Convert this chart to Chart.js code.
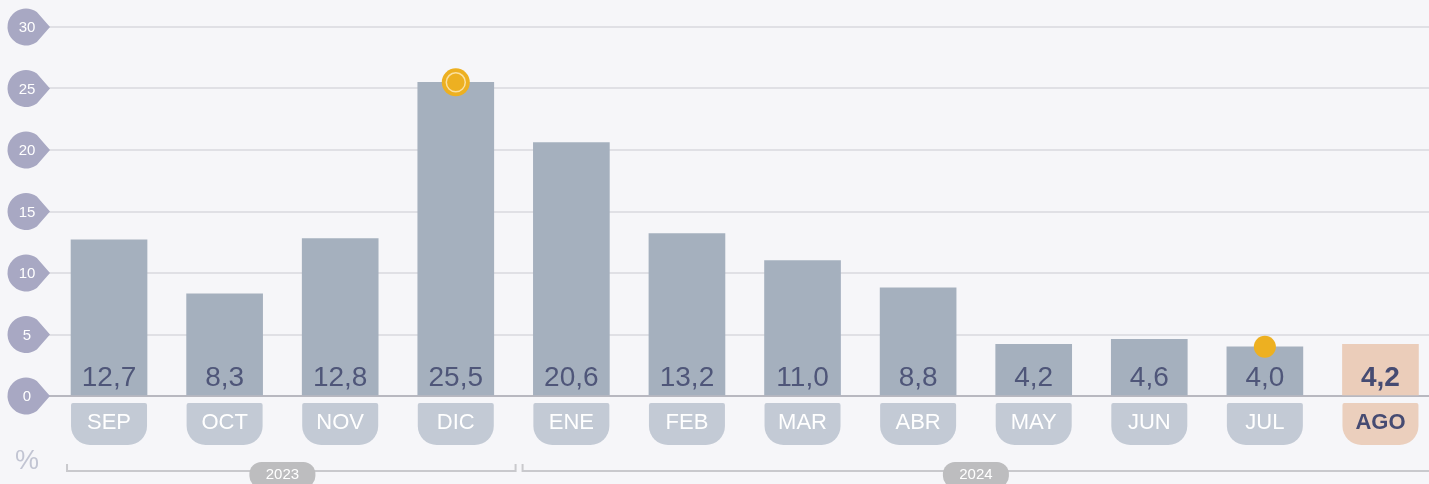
<!DOCTYPE html>
<html><head><meta charset="utf-8">
<script src="https://cdn.jsdelivr.net/npm/chart.js@4/dist/chart.umd.min.js"></script>
<style>html,body{margin:0;padding:0;background:#f6f6f9;overflow:hidden}#wrap{width:1429px;height:484px;position:relative}</style>
</head><body><div id="wrap"><canvas id="c" width="1429" height="484"></canvas></div>
<script>
const months = ['SEP','OCT','NOV','DIC','ENE','FEB','MAR','ABR','MAY','JUN','JUL','AGO'];
const values = [12.7, 8.3, 12.8, 25.5, 20.6, 13.2, 11.0, 8.8, 4.2, 4.6, 4.0, 4.2];
const peakMarker = [null, null, null, 25.5, null, null, null, null, null, null, null, null];
const lowMarker  = [null, null, null, null, null, null, null, null, null, null, 4.0, null];
const yTicks = [0, 5, 10, 15, 20, 25, 30];
const years = ['2023', '2024'];
const yearFirst = [0, 4];
const yearLast = [3, 11];
const unitLabel = '%';

const FONT = '"Liberation Sans", Arial, sans-serif';
const ORANGE = '#edb021';
const lastIdx = months.length - 1;
const fmt = v => v.toFixed(1).replace('.', ',');
const pts = arr => arr.map((v, i) => ({ x: i, y: v }));

function roundRect(ctx, x, y, w, h, rTop, rBot) {
  ctx.beginPath();
  ctx.moveTo(x + rTop, y);
  ctx.lineTo(x + w - rTop, y);
  ctx.arcTo(x + w, y, x + w, y + rTop, rTop);
  ctx.lineTo(x + w, y + h - rBot);
  ctx.arcTo(x + w, y + h, x + w - rBot, y + h, rBot);
  ctx.lineTo(x + rBot, y + h);
  ctx.arcTo(x, y + h, x, y + h - rBot, rBot);
  ctx.lineTo(x, y + rTop);
  ctx.arcTo(x, y, x + rTop, y, rTop);
  ctx.closePath();
}

const decor = {
  id: 'decor',
  afterDatasetsDraw(chart) {
    const ctx = chart.ctx;
    const area = chart.chartArea;
    const meta = chart.getDatasetMeta(0);
    ctx.save();
    ctx.textAlign = 'center';
    ctx.textBaseline = 'alphabetic';
    meta.data.forEach((el, i) => {
      const last = i === lastIdx;
      ctx.font = (last ? 'bold ' : '') + '28px ' + FONT;
      ctx.fillStyle = last ? '#464b72' : '#4f5679';
      ctx.fillText(fmt(values[i]), el.x, area.bottom - 10);
    });
    ctx.restore();
  },
  afterDraw(chart) {
    const ctx = chart.ctx;
    const area = chart.chartArea;
    const ys = chart.scales.y;
    const xs = chart.scales.x;
    const meta = chart.getDatasetMeta(0);
    ctx.save();
    // y-axis bubbles
    yTicks.forEach(t => {
      const y = ys.getPixelForValue(t);
      const cx = 26, r = 18.5;
      ctx.fillStyle = '#a8a8c3';
      ctx.beginPath();
      ctx.arc(cx, y, r, Math.PI * 0.3, Math.PI * 1.7);
      ctx.lineTo(50, y);
      ctx.closePath();
      ctx.fill();
      ctx.fillStyle = '#ffffff';
      ctx.font = '15px ' + FONT;
      ctx.textAlign = 'center';
      ctx.textBaseline = 'middle';
      ctx.fillText(String(t), cx + 1, y + 1);
    });
    // month pills
    meta.data.forEach((el, i) => {
      const last = i === lastIdx;
      const w = el.width;
      const top = area.bottom + 7;
      roundRect(ctx, el.x - w / 2, top, w, 42, 2, 19);
      ctx.fillStyle = last ? '#ebcfbd' : '#c3cad5';
      ctx.fill();
      ctx.font = (last ? 'bold ' : '') + '22px ' + FONT;
      ctx.fillStyle = last ? '#464b72' : '#ffffff';
      ctx.textAlign = 'center';
      ctx.textBaseline = 'middle';
      ctx.fillText(months[i], el.x, top + 20);
    });
    // unit label
    ctx.font = '27px ' + FONT;
    ctx.fillStyle = '#c2c5d3';
    ctx.textAlign = 'center';
    ctx.textBaseline = 'middle';
    ctx.fillText(unitLabel, 27, 462);
    // year brackets
    const ly = 471;
    years.forEach((yr, k) => {
      const f = yearFirst[k], l = yearLast[k];
      const x1 = f === 0 ? xs.getPixelForValue(f) - 42 : xs.getPixelForValue(f - 0.5) + 9;
      const x2 = xs.getPixelForValue(l + 0.5) + 2;
      ctx.strokeStyle = '#c9c9cd';
      ctx.lineWidth = 2;
      ctx.beginPath();
      ctx.moveTo(x1, ly - 7);
      ctx.lineTo(x1, ly);
      ctx.lineTo(x2, ly);
      ctx.lineTo(x2, ly - 7);
      ctx.stroke();
      const cx = (xs.getPixelForValue(f) + xs.getPixelForValue(l)) / 2;
      roundRect(ctx, cx - 33, 462, 66, 26, 12, 12);
      ctx.fillStyle = '#bdbdbf';
      ctx.fill();
      ctx.font = '15px ' + FONT;
      ctx.fillStyle = '#ffffff';
      ctx.textAlign = 'center';
      ctx.textBaseline = 'middle';
      ctx.fillText(yr, cx, 475);
    });
    ctx.restore();
  }
};

new Chart(document.getElementById('c'), {
  data: {
    datasets: [
      {
        type: 'bar',
        data: pts(values),
        backgroundColor: values.map((v, i) => i === lastIdx ? '#ebcdba' : '#a5b0be'),
        barThickness: 76,
        order: 3
      },
      {
        type: 'line',
        data: pts(peakMarker),
        showLine: false,
        pointRadius: 14,
        pointBackgroundColor: ORANGE,
        pointBorderWidth: 0,
        order: 2
      },
      {
        type: 'line',
        data: pts(peakMarker),
        showLine: false,
        pointRadius: 9.5,
        pointBackgroundColor: ORANGE,
        pointBorderColor: '#fbe0a0',
        pointBorderWidth: 1.5,
        order: 1
      },
      {
        type: 'line',
        data: pts(lowMarker),
        showLine: false,
        pointRadius: 11,
        pointBackgroundColor: ORANGE,
        pointBorderWidth: 0,
        order: 1
      }
    ]
  },
  options: {
    responsive: false,
    animation: false,
    devicePixelRatio: 1,
    layout: { autoPadding: false, padding: { left: 48, right: 0, top: 27, bottom: 88 } },
    plugins: { legend: { display: false }, tooltip: { enabled: false } },
    scales: {
      x: { type: 'linear', min: -0.528, max: 11.42, offset: false, display: false },
      y: {
        min: 0, max: 30,
        afterFit: s => { s.width = 0; },
        border: { display: false },
        ticks: { display: false, stepSize: 5 },
        grid: {
          drawTicks: false,
          lineWidth: 2,
          color: c => c.tick && c.tick.value === 0 ? '#b8b8c0' : '#e0e0e5'
        }
      }
    }
  },
  plugins: [decor]
});
</script>
</body></html>
